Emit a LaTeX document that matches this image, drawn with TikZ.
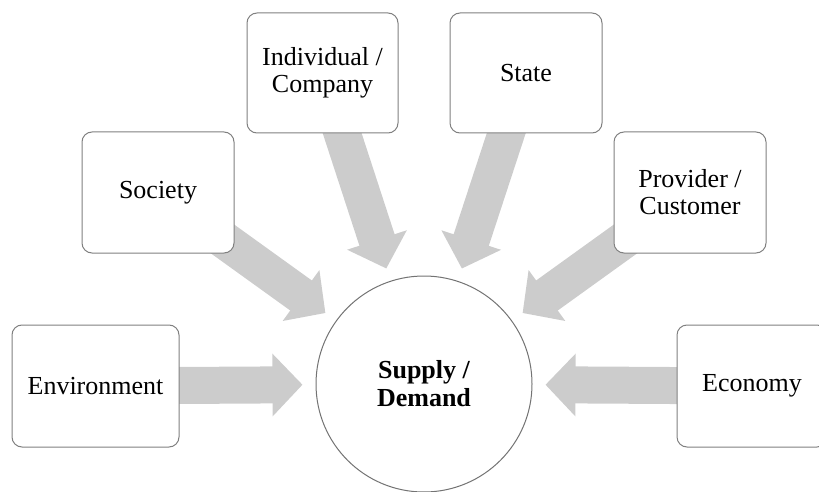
\documentclass[tikz,border=0pt]{standalone}
\usepackage{fontspec}
\setmainfont{Liberation Serif}
\usetikzlibrary{arrows.meta,backgrounds}

\tikzset{
  box/.style={draw=black!50, line width=0.5pt, fill=white, rounded corners=5pt,
    align=center, font=\fontsize{13}{13.5}\selectfont, inner sep=0pt},
  hub/.style={draw=black!55, line width=0.5pt, fill=white, circle, minimum size=216pt,
    align=center, font=\fontsize{13}{14}\selectfont\bfseries},
  flow/.style={draw=black!20, line width=18.5pt,
    -{Triangle[width=30.5pt, length=15pt]}, shorten >=6.5pt}
}

\begin{document}
\begin{tikzpicture}[x=0.5pt, y=-0.5pt]
\useasboundingbox (0,0) rectangle (819,492);

\node(sd)[hub, minimum size=108pt] at (424,384) {Supply /\\Demand};

\node(env)[box, minimum width=83.5pt, minimum height=61pt] at (95.5,386) {Environment};
\node(soc)[box, minimum width=76pt, minimum height=60.5pt] at (158,192.5) {Society};
\node(ind)[box, minimum width=75.5pt, minimum height=60pt] at (322.5,73) {Individual /\\Company};
\node(sta)[box, minimum width=76pt, minimum height=60pt] at (526,73) {State};
\node(pro)[box, minimum width=76pt, minimum height=60.5pt] at (690,192.5) {Provider /\\Customer};
\node(eco)[box, minimum width=75pt, minimum height=61pt] at (752,386) {Economy};

\begin{scope}[on background layer]
\draw[flow] (env.center) -- (sd);
\draw[flow] (soc.center) -- (sd);
\draw[flow] (ind.center) -- (sd);
\draw[flow] (sta.center) -- (sd);
\draw[flow] (pro.center) -- (sd);
\draw[flow] (eco.center) -- (sd);
\end{scope}
\end{tikzpicture}
\end{document}
